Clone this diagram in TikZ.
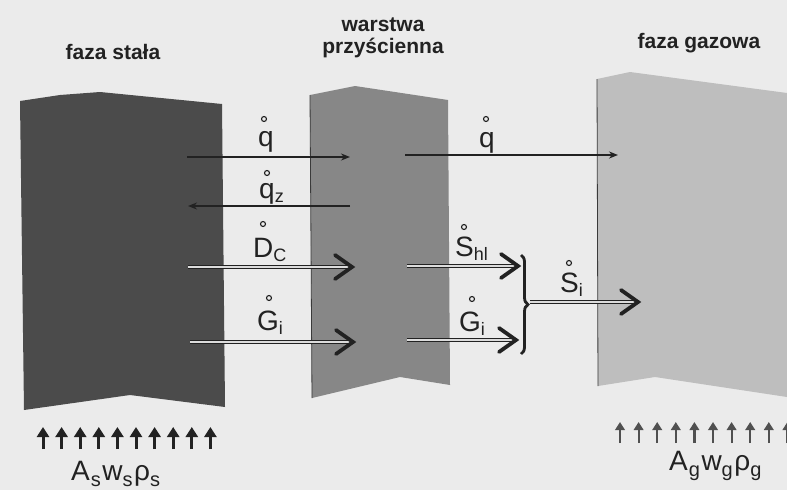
\documentclass[tikz,border=0pt]{standalone}
\usepackage{fontspec}
\setmainfont{Liberation Sans}
\usetikzlibrary{arrows.meta,decorations.pathreplacing}
\definecolor{bgc}{HTML}{EBEBEB}
\definecolor{solidc}{HTML}{4B4B4B}
\definecolor{wallc}{HTML}{878787}
\definecolor{gasc}{HTML}{BEBEBE}
\definecolor{inkc}{HTML}{222222}
\definecolor{shaftc}{HTML}{DCDCDC}
\definecolor{edgec}{HTML}{3A3A3A}
\definecolor{upgc}{HTML}{505050}
\newcommand\sbs[1]{\raisebox{-0.3ex}{\fontsize{18}{18}\selectfont #1}}
\newcommand\sbb[1]{\raisebox{-0.45ex}{\fontsize{20}{20}\selectfont #1}\kern1.5pt}
\newcommand\chevron[1]{\draw[chev] ([shift={(-17,-12)}]#1) -- (#1) -- ([shift={(-17,12)}]#1);}
\begin{document}
\begin{tikzpicture}[x=1pt,y=-1pt,
  title/.style={font=\fontsize{21}{22}\selectfont\bfseries, text=inkc, inner sep=0pt, align=center},
  sym/.style={font=\fontsize{28}{30}\selectfont, text=inkc, inner sep=0pt, anchor=base west},
  ring/.style={draw=inkc, line width=1.1pt},
  thinarrow/.style={draw=inkc, line width=1.8pt, -{Stealth[length=9pt,width=7pt]}},
  shaft/.style={draw=inkc, double=shaftc, double distance=1.6pt, line width=0.9pt},
  chev/.style={draw=inkc, line width=3.8pt, line cap=round, line join=miter},
  uparrow/.style={draw=inkc, line width=3pt, -{Triangle[length=10pt,width=12pt]}},
  uparrowg/.style={draw=upgc, line width=2.2pt, -{Triangle[length=8pt,width=9.5pt]}}]
\useasboundingbox (0,0) rectangle (787,490);
\fill[bgc] (0,0) rectangle (787,490);
% panels
\fill[solidc] (20,101) -- (60,95) -- (100,92) -- (222,104) -- (225,407) -- (130,395) -- (24,410) -- cycle;
\fill[wallc] (310,95) -- (355,86) -- (448,100) -- (450,385) -- (400,377) -- (312,398) -- cycle;
\draw[edgec, line width=0.8pt] (310,95) -- (312,398);
\fill[gasc] (597,79) -- (630,72) -- (787,93) -- (787,397) -- (655,377) -- (598,386) -- cycle;
\draw[edgec, line width=0.8pt] (597,79) -- (598,386);
% titles
\node[title] (ts) at (113,52) {faza stała};
\node[title] (tw) at (383,38) {warstwa\\przyścienna};
\node[title] (tg) at (699,43) {faza gazowa};
% coordinates
\coordinate (q1s) at (187,157); \coordinate (q1e) at (350,157);
\coordinate (qzs) at (350,206); \coordinate (qze) at (188,206);
\coordinate (dcs) at (188,267); \coordinate (dce) at (352,267);
\coordinate (g1s) at (190,342); \coordinate (g1e) at (353,342);
\coordinate (q2s) at (405,155); \coordinate (q2e) at (618,155);
\coordinate (shs) at (407,266); \coordinate (she) at (518,266);
\coordinate (g2s) at (407,340); \coordinate (g2e) at (516,340);
\coordinate (brt) at (521,255); \coordinate (brb) at (521,354);
\coordinate (sis) at (530,302); \coordinate (sie) at (638,302);
% thin arrows
\draw[thinarrow] (q1s) -- (q1e);
\draw[thinarrow] (qzs) -- (qze);
\draw[thinarrow] (q2s) -- (q2e);
% double arrows
\draw[shaft] (dcs) -- (dce); \chevron{dce}
\draw[shaft] (g1s) -- (g1e); \chevron{g1e}
\draw[shaft] (shs) -- (she); \chevron{she}
\draw[shaft] (g2s) -- (g2e); \chevron{g2e}
\draw[shaft] (sis) -- (sie); \chevron{sie}
% brace
\draw[inkc, line width=2.8pt, decorate, decoration={brace, amplitude=7pt}] (brt) -- (brb);
% labels
\node[sym] (lq1) at (258,146) {q};
\node[sym] (lqz) at (259,198) {q\sbs{z}};
\node[sym] (ldc) at (253,257) {D\sbs{C}};
\node[sym] (lg1) at (257,330) {G\sbs{i}};
\node[sym] (lq2) at (479,147) {q};
\node[sym] (lsh) at (455,256) {S\sbs{hl}};
\node[sym] (lg2) at (459,331) {G\sbs{i}};
\node[sym] (lsi) at (560,292) {S\sbs{i}};
% dot-rings (time derivative marks)
\draw[ring] (264,119) circle (2.5);
\draw[ring] (267,173) circle (2.5);
\draw[ring] (263,224) circle (2.5);
\draw[ring] (269,298) circle (2.5);
\draw[ring] (486,119) circle (2.5);
\draw[ring] (464,227) circle (2.5);
\draw[ring] (472,299) circle (2.5);
\draw[ring] (569,263) circle (2.5);
% bottom flows
\foreach \i in {0,...,9} \draw[uparrow] (43+18.6*\i,449) -- (43+18.6*\i,427);
\foreach \i in {0,...,9} \draw[uparrowg] (620+18.6*\i,443) -- (620+18.6*\i,422);
\node[sym] (las) at (71,480) {A\kern1pt\sbb{s}w\sbb{s}ρ\sbb{s}};
\node[sym] (lag) at (669,470) {A\kern1pt\sbb{g}w\sbb{g}ρ\sbb{g}};
\end{tikzpicture}
\end{document}
